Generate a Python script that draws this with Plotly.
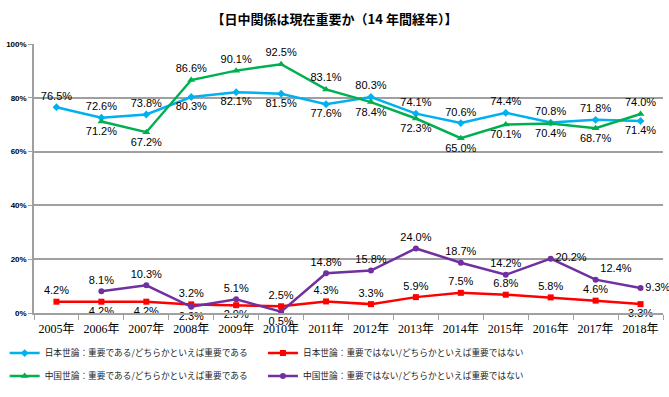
import plotly.graph_objects as go

years = ["2005年", "2006年", "2007年", "2008年", "2009年", "2010年", "2011年",
         "2012年", "2013年", "2014年", "2015年", "2016年", "2017年", "2018年"]

jp_important = [76.5, 72.6, 73.8, 80.3, 82.1, 81.5, 77.6, 80.3, 74.1, 70.6, 74.4, 70.8, 71.8, 71.4]
jp_not_important = [4.2, 4.2, 4.2, 3.2, 2.9, 2.5, 4.3, 3.3, 5.9, 7.5, 6.8, 5.8, 4.6, 3.3]
cn_important = [None, 71.2, 67.2, 86.6, 90.1, 92.5, 83.1, 78.4, 72.3, 65.0, 70.1, 70.4, 68.7, 74.0]
cn_not_important = [None, 8.1, 10.3, 2.3, 5.1, 0.5, 14.8, 15.8, 24.0, 18.7, 14.2, 20.2, 12.4, 9.3]

names = [
    "日本世論：重要である/どちらかといえば重要である",
    "日本世論：重要ではない/どちらかといえば重要ではない",
    "中国世論：重要である/どちらかといえば重要である",
    "中国世論：重要ではない/どちらかといえば重要ではない",
]

T, B, R = "top center", "bottom center", "middle right"
pos_jp_imp = [T, T, T, B, B, B, B, T, T, T, T, T, T, B]
pos_jp_not = [T, B, B, T, B, T, T, T, T, T, T, T, T, B]
pos_cn_imp = [T, B, B, T, T, T, T, B, B, B, B, B, B, T]
pos_cn_not = [T, T, T, B, T, B, T, T, T, T, T, R, "top right", R]


def labels(vals):
    return [f"{v:.1f}%" if v is not None else "" for v in vals]


series = [
    (jp_important, names[0], "#00B0F0", "diamond", 6, pos_jp_imp, "legend"),
    (jp_not_important, names[1], "#FF0000", "square", 6, pos_jp_not, "legend2"),
    (cn_important, names[2], "#00B050", "triangle-up", 7, pos_cn_imp, "legend3"),
    (cn_not_important, names[3], "#7030A0", "circle", 6, pos_cn_not, "legend4"),
]

fig = go.Figure()
for vals, name, color, sym, size, pos, lg in series:
    fig.add_trace(go.Scatter(
        x=years, y=vals, name=name, mode="lines+markers+text",
        line=dict(color=color, width=2.5),
        marker=dict(symbol=sym, size=size, color=color),
        text=labels(vals), textposition=pos,
        textfont=dict(family="Liberation Sans, Arial, sans-serif", size=11, color="black"),
        cliponaxis=False, legend=lg,
    ))

legend_common = dict(orientation="h", xanchor="left", yanchor="middle",
                     font=dict(family="Noto Sans CJK JP, sans-serif", size=8.7, color="#222"),
                     itemwidth=30, bgcolor="rgba(0,0,0,0)")
XL, XR = -0.045, 0.365
Y1, Y2 = -0.149, -0.234

fig.update_layout(
    width=669, height=397,
    margin=dict(l=33, r=6, t=44, b=84),
    paper_bgcolor="white", plot_bgcolor="white",
    title=dict(text="<b>【日中関係は現在重要か（14 年間経年）】</b>", x=0.5, xanchor="center",
               y=0.952, yanchor="middle",
               font=dict(family="Noto Sans CJK JP, sans-serif", size=13, color="black")),
    showlegend=True,
    legend=dict(legend_common, x=XL, y=Y1),
    legend2=dict(legend_common, x=XR, y=Y1),
    legend3=dict(legend_common, x=XL, y=Y2),
    legend4=dict(legend_common, x=XR, y=Y2),
    xaxis=dict(type="category", showgrid=False, showline=True, linecolor="#A0A0A0", linewidth=1.5,
               ticks="outside", tickson="boundaries", ticklen=5, tickcolor="#A0A0A0",
               tickangle=0, automargin=False, ticklabelstandoff=4,
               tickfont=dict(family="Liberation Serif, Noto Sans CJK JP, serif", size=12, color="black"),
               range=[-0.5, 13.5]),
    yaxis=dict(range=[0, 100], dtick=20, ticksuffix="%", showgrid=True, gridcolor="#A0A0A0",
               gridwidth=1.5, showline=True, linecolor="#A0A0A0", linewidth=1.5,
               ticks="outside", ticklen=4, tickcolor="#A0A0A0", zeroline=False, automargin=False,
               tickfont=dict(family="Liberation Sans, Arial, sans-serif", size=8, color="black", weight="bold")),
)

fig.write_html("out.html", config={"displayModeBar": False},
               post_script="document.body.style.margin='0';document.body.style.overflow='hidden';")
